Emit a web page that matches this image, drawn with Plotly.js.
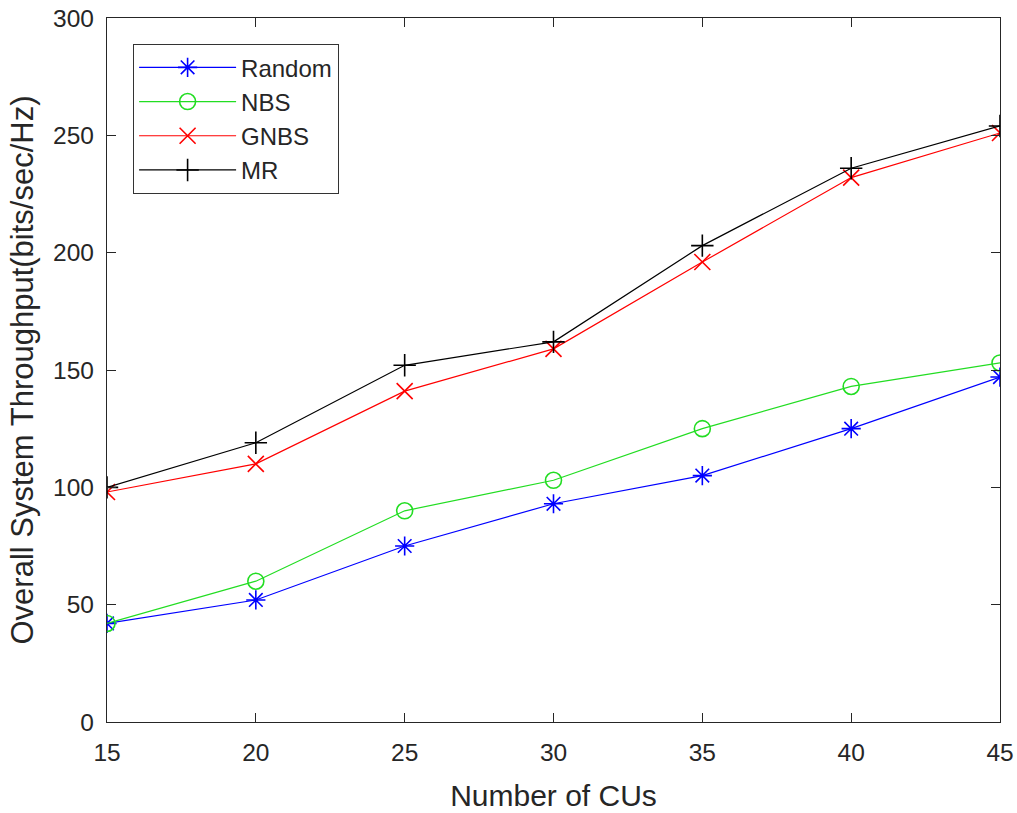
<!DOCTYPE html>
<html>
<head>
<meta charset="utf-8">
<script src="https://cdn.plot.ly/plotly-3.0.1.min.js"></script>
<style>html,body{margin:0;padding:0;background:#fff;}#chart{width:1017px;height:813px;}</style>
</head>
<body>
<div id="chart"></div>
<script>
const cus = [15, 20, 25, 30, 35, 40, 45];
const randomVals = [42, 52, 75, 93, 105, 125, 147];
const nbsVals = [42, 60, 90, 103, 125, 143, 153];
const gnbsVals = [98, 110, 141, 159, 196, 232, 251];
const mrVals = [100, 119, 152, 162, 203, 236, 254];
const xTicks = [15, 20, 25, 30, 35, 40, 45];
const yTicks = [0, 50, 100, 150, 200, 250, 300];

function tr(name, y, color, symbol) {
  return {
    x: cus, y: y, name: name, type: 'scatter', mode: 'lines+markers',
    line: {color: color, width: 1.2},
    marker: {symbol: symbol, size: 16, color: color, line: {color: color, width: 1.6}}
  };
}
const data = [
  tr('Random', randomVals, '#0000ff', 'asterisk-open'),
  tr('NBS', nbsVals, '#22dd22', 'circle-open'),
  tr('GNBS', gnbsVals, '#ff0000', 'x-thin-open'),
  tr('MR', mrVals, '#000000', 'cross-thin-open')
];
const FAM = 'Liberation Sans, Arial, sans-serif';
const axFont = {family: FAM, size: 24.5, color: '#262626'};
const layout = {
  width: 1017, height: 813,
  margin: {l: 107, r: 17, t: 18, b: 91},
  paper_bgcolor: '#fff', plot_bgcolor: '#fff',
  showlegend: true,
  legend: {
    x: 0.029, y: 0.963, xanchor: 'left', yanchor: 'top',
    bordercolor: '#333', borderwidth: 1.2, bgcolor: '#fff',
    font: {family: FAM, size: 24, color: '#262626'},
    itemwidth: 97, tracegroupgap: 0
  },
  xaxis: {
    range: [15, 45], tickvals: xTicks, ticktext: xTicks.map(String),
    ticks: 'inside', ticklen: 9, tickcolor: '#262626', ticklabelstandoff: 8,
    showline: true, linecolor: '#262626', linewidth: 1.2, mirror: 'ticks',
    showgrid: false, zeroline: false, tickfont: axFont, automargin: false,
    title: {text: 'Number of CUs', font: {family: FAM, size: 30, color: '#262626'}, standoff: 20}
  },
  yaxis: {
    range: [0, 300], tickvals: yTicks, ticktext: yTicks.map(String),
    ticks: 'inside', ticklen: 9, tickcolor: '#262626', ticklabelstandoff: 7,
    showline: true, linecolor: '#262626', linewidth: 1.2, mirror: 'ticks',
    showgrid: false, zeroline: false, tickfont: axFont, automargin: false,
    title: {text: 'Overall System Throughput(bits/sec/Hz)', font: {family: FAM, size: 31, color: '#262626'}, standoff: 10}
  }
};
Plotly.newPlot('chart', data, layout, {displayModeBar: false, staticPlot: true});
</script>
</body>
</html>
